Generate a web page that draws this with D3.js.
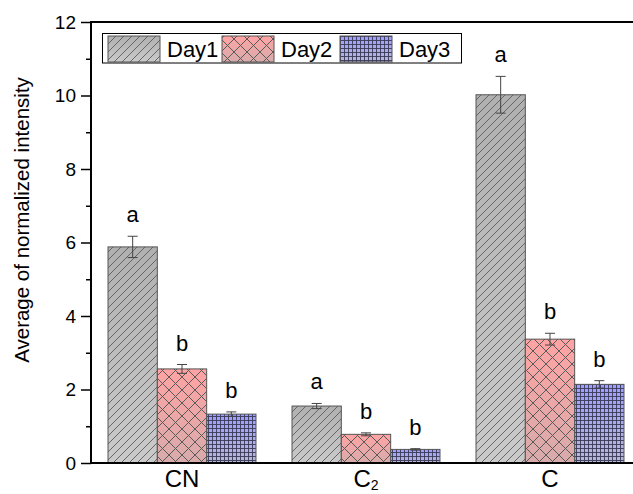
<!DOCTYPE html>
<html>
<head>
<meta charset="utf-8">
<script src="https://cdn.jsdelivr.net/npm/d3@7"></script>
<style>
  html, body { margin: 0; padding: 0; background: #fff; }
  svg text { font-family: Arial, "Liberation Sans", sans-serif; }
</style>
</head>
<body>
<svg id="chart" width="633" height="494"></svg>
<script>
// Sample groups and measurement days
const groups = ["CN", "C2", "C"];
const days = ["Day1", "Day2", "Day3"];

// Mean normalized intensity per group, one array per day
const day1Values = [5.88, 1.55, 10.02];
const day2Values = [2.56, 0.78, 3.37];
const day3Values = [1.33, 0.37, 2.14];

// Standard errors
const day1Errors = [0.29, 0.07, 0.50];
const day2Errors = [0.12, 0.04, 0.16];
const day3Errors = [0.06, 0.02, 0.10];

// Significance letters
const day1Letters = ["a", "a", "a"];
const day2Letters = ["b", "b", "b"];
const day3Letters = ["b", "b", "b"];

const yTicks = [0, 2, 4, 6, 8, 10, 12];
const yMinorTicks = [1, 3, 5, 7, 9, 11];

const seriesValues = [day1Values, day2Values, day3Values];
const seriesErrors = [day1Errors, day2Errors, day3Errors];
const seriesLetters = [day1Letters, day2Letters, day3Letters];

const rows = [];
groups.forEach((g, gi) => {
  days.forEach((d, di) => {
    rows.push({
      group: g, day: d,
      value: seriesValues[di][gi],
      err: seriesErrors[di][gi],
      letter: seriesLetters[di][gi]
    });
  });
});

const svg = d3.select("#chart");
const plotLeft = 91, plotTop = 22, plotBottom = 463, plotRight = 642;

const y = d3.scaleLinear().domain([0, 12]).range([plotBottom, plotTop]);
const x0 = d3.scaleBand().domain(groups).range([plotLeft - 1, plotRight]).paddingInner(0).paddingOuter(0);
const x1 = d3.scaleBand().domain(days).range([0, x0.bandwidth()]).paddingInner(0).paddingOuter(0.365);

// Fill styles: gradient base + overlay pattern
const defs = svg.append("defs");
const styles = {
  Day1: { top: "#b0b0b0", bottom: "#cacaca", id: "p1" },
  Day2: { top: "#ffa3a3", bottom: "#d8abab", id: "p2" },
  Day3: { top: "#9d9dff", bottom: "#b7b7d8", id: "p3" }
};
days.forEach(d => {
  const s = styles[d];
  const g = defs.append("linearGradient")
    .attr("id", "g" + s.id).attr("x1", 0).attr("y1", 0).attr("x2", 0).attr("y2", 1);
  g.append("stop").attr("offset", "0%").attr("stop-color", s.top);
  g.append("stop").attr("offset", "100%").attr("stop-color", s.bottom);
});

// Diagonal hatch
const p1 = defs.append("pattern").attr("id", "p1")
  .attr("patternUnits", "userSpaceOnUse").attr("width", 8).attr("height", 8);
p1.append("path").attr("d", "M-2,2 L2,-2 M0,8 L8,0 M6,10 L10,6")
  .attr("stroke", "#5e5e5e").attr("stroke-width", 0.9).attr("fill", "none");

// Cross hatch
const p2 = defs.append("pattern").attr("id", "p2")
  .attr("patternUnits", "userSpaceOnUse").attr("width", 13).attr("height", 13);
p2.append("path").attr("d", "M0,0 L13,13 M13,0 L0,13")
  .attr("stroke", "#5a5a5a").attr("stroke-width", 1).attr("fill", "none");

// Fine grid
const p3 = defs.append("pattern").attr("id", "p3")
  .attr("patternUnits", "userSpaceOnUse").attr("width", 4).attr("height", 4);
p3.append("path").attr("d", "M0,0.5 H4 M0.5,0 V4")
  .attr("stroke", "#3a3a55").attr("stroke-width", 0.9).attr("fill", "none");

// Bars
const barG = svg.append("g");
const bars = barG.selectAll("g.bar").data(rows).join("g").attr("class", "bar");
bars.append("rect")
  .attr("x", d => x0(d.group) + x1(d.day))
  .attr("y", d => y(d.value))
  .attr("width", x1.bandwidth())
  .attr("height", d => y(0) - y(d.value))
  .attr("fill", d => "url(#g" + styles[d.day].id + ")");
bars.append("rect")
  .attr("x", d => x0(d.group) + x1(d.day))
  .attr("y", d => y(d.value))
  .attr("width", x1.bandwidth())
  .attr("height", d => y(0) - y(d.value))
  .attr("fill", d => "url(#" + styles[d.day].id + ")")
  .attr("stroke", "#555").attr("stroke-width", 1);

// Error bars
const cx = d => x0(d.group) + x1(d.day) + x1.bandwidth() / 2;
bars.append("line")
  .attr("x1", cx).attr("x2", cx)
  .attr("y1", d => y(d.value + d.err)).attr("y2", d => y(d.value - d.err))
  .attr("stroke", "#444").attr("stroke-width", 1);
bars.append("line")
  .attr("x1", d => cx(d) - 5).attr("x2", d => cx(d) + 5)
  .attr("y1", d => y(d.value + d.err)).attr("y2", d => y(d.value + d.err))
  .attr("stroke", "#444").attr("stroke-width", 1);
bars.append("line")
  .attr("x1", d => cx(d) - 5).attr("x2", d => cx(d) + 5)
  .attr("y1", d => y(d.value - d.err)).attr("y2", d => y(d.value - d.err))
  .attr("stroke", "#444").attr("stroke-width", 1);

// Significance letters
bars.append("text")
  .attr("x", cx)
  .attr("y", d => y(d.value + d.err) - 14)
  .attr("text-anchor", "middle")
  .attr("font-size", 22)
  .attr("fill", "#000")
  .text(d => d.letter);

// Y axis
const yAxis = d3.axisLeft(y).tickValues(yTicks).tickSize(10).tickPadding(5).tickFormat(d3.format("d"));
const yg = svg.append("g").attr("transform", `translate(${plotLeft},0)`).call(yAxis);
yg.select(".domain").remove();
yg.selectAll(".tick line").attr("stroke", "#000").attr("stroke-width", 1.5);
yg.selectAll(".tick text").attr("font-size", 19).attr("font-family", "Arial, 'Liberation Sans', sans-serif").attr("fill", "#000");
const yMinor = d3.axisLeft(y).tickValues(yMinorTicks).tickSize(5).tickFormat("");
const ymg = svg.append("g").attr("transform", `translate(${plotLeft},0)`).call(yMinor);
ymg.select(".domain").remove();
ymg.selectAll(".tick line").attr("stroke", "#000").attr("stroke-width", 1.5);

// Frame lines
svg.append("line").attr("x1", plotLeft).attr("x2", plotLeft).attr("y1", plotTop - 1).attr("y2", plotBottom + 1)
  .attr("stroke", "#000").attr("stroke-width", 2);
svg.append("line").attr("x1", plotLeft - 1).attr("x2", 633).attr("y1", plotBottom).attr("y2", plotBottom)
  .attr("stroke", "#000").attr("stroke-width", 2);
svg.append("line").attr("x1", plotLeft - 1).attr("x2", 633).attr("y1", plotTop).attr("y2", plotTop)
  .attr("stroke", "#000").attr("stroke-width", 2);

// X category labels
const xLab = svg.append("g");
groups.forEach(g => {
  const t = xLab.append("text")
    .attr("x", x0(g) + x0.bandwidth() / 2)
    .attr("y", 487)
    .attr("text-anchor", "middle")
    .attr("font-size", 24)
    .attr("fill", "#000");
  if (g === "C2") {
    t.append("tspan").text("C");
    t.append("tspan").attr("font-size", 14).attr("dy", 3).text("2");
  } else {
    t.text(g);
  }
});

// Y axis title
svg.append("text")
  .attr("transform", "translate(29,220) rotate(-90)")
  .attr("text-anchor", "middle")
  .attr("font-size", 20.5)
  .attr("fill", "#000")
  .text("Average of normalized intensity");

// Legend
const legend = svg.append("g");
legend.append("rect").attr("x", 102.5).attr("y", 33.5).attr("width", 359).attr("height", 29.5)
  .attr("fill", "#fff").attr("stroke", "#000").attr("stroke-width", 1);
const legendX = [108, 222, 340];
days.forEach((d, i) => {
  const s = styles[d];
  legend.append("rect").attr("x", legendX[i]).attr("y", 36).attr("width", 52).attr("height", 26)
    .attr("fill", "url(#g" + s.id + ")");
  legend.append("rect").attr("x", legendX[i]).attr("y", 36).attr("width", 52).attr("height", 26)
    .attr("fill", "url(#" + s.id + ")").attr("stroke", "#555").attr("stroke-width", 1);
  legend.append("text").attr("x", legendX[i] + 59).attr("y", 57)
    .attr("font-size", 22).attr("fill", "#000").text(d);
});
</script>
</body>
</html>
